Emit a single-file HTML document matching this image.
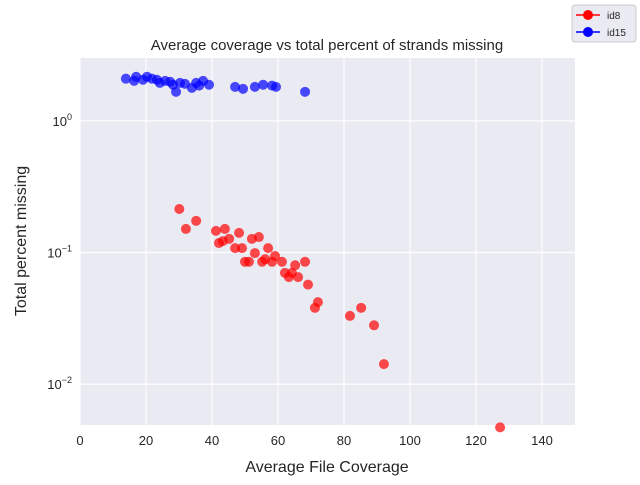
<!DOCTYPE html>
<html><head><meta charset="utf-8"><style>
body{margin:0;background:#fff;font-family:"Liberation Sans",sans-serif;}
svg text{font-family:"Liberation Sans","DejaVu Sans",sans-serif;}
</style></head><body>
<svg id="chart" width="640" height="480" xmlns="http://www.w3.org/2000/svg">
<rect x="80" y="58" width="495" height="367" fill="#eaeaf2"/>
<g id="grid"></g>
<g id="ticks"></g>
<g id="pts"></g>
<text x="327" y="50" text-anchor="middle" font-size="15" fill="#262626">Average coverage vs total percent of strands missing</text>
<text x="327" y="472" text-anchor="middle" font-size="16" fill="#262626">Average File Coverage</text>
<text transform="translate(26,241) rotate(-90)" text-anchor="middle" font-size="16" fill="#262626">Total percent missing</text>
<g>
<rect x="572" y="5" width="64" height="37" rx="3" fill="#eaeaf2" stroke="#ccc"/>
<g>
<line x1="576" y1="15" x2="600" y2="15" stroke="#f00" stroke-width="1.5"/><circle cx="588" cy="15" r="5" fill="#f00"/>
<text x="607" y="19" font-size="10" fill="#262626">id8</text></g>
<g>
<line x1="576" y1="32" x2="600" y2="32" stroke="#00f" stroke-width="1.5"/><circle cx="588" cy="32" r="5" fill="#00f"/>
<text x="607" y="36" font-size="10" fill="#262626">id15</text></g>
</g>
</svg>
<script>
const xTicks=[0,20,40,60,80,100,120,140];
const yDecades=[-2,-1,0];
const id8X=[30.1,35.2,32.1,41.2,43.9,48.2,42.1,43.3,45.2,52.1,54.2,47.0,49.1,53.0,57.0,50.0,51.2,55.2,56.1,58.2,59.1,61.2,68.2,65.2,62.1,63.3,64.2,66.1,69.1,72.1,71.2,81.8,85.2,89.1,92.1,127.3];
const id8Y=[0.214,0.174,0.151,0.146,0.151,0.141,0.118,0.122,0.127,0.127,0.131,0.108,0.108,0.099,0.108,0.085,0.085,0.085,0.089,0.085,0.094,0.085,0.085,0.080,0.070,0.065,0.070,0.065,0.057,0.042,0.038,0.033,0.038,0.028,0.0142,0.0047];
const id15X=[13.9,16.4,17.0,19.1,20.3,21.8,23.3,24.2,25.8,27.3,28.2,29.1,30.3,31.8,33.9,35.2,36.1,37.3,39.1,47.0,49.4,53.0,55.5,58.2,59.4,68.2];
const id15Y=[2.09,2.01,2.16,2.05,2.16,2.09,2.05,1.94,2.01,1.98,1.88,1.66,1.94,1.91,1.78,1.94,1.85,2.01,1.88,1.81,1.75,1.81,1.88,1.85,1.81,1.66];
const NS="http://www.w3.org/2000/svg";
const X0=80,X1=575,XMIN=0,XMAX=150,Y0=58,Y1=425;
const LMAX=Math.log10(3.0),LMIN=-2.31;
function sx(v){return X0+(v-XMIN)/(XMAX-XMIN)*(X1-X0);}
function sy(v){return Y0+(LMAX-Math.log10(v))/(LMAX-LMIN)*(Y1-Y0);}
function mk(t,a,p){const e=document.createElementNS(NS,t);for(const k in a)e.setAttribute(k,a[k]);p.appendChild(e);return e;}
const grid=document.getElementById('grid'),ticks=document.getElementById('ticks'),pts=document.getElementById('pts');
xTicks.forEach(t=>{const x=sx(t);
const l=mk('line',{x1:x,x2:x,y1:Y0,y2:Y1,stroke:'#fff','stroke-width':1.2},grid);


const tx=mk('text',{x:x,y:Y1+20,'text-anchor':'middle','font-size':13,fill:'#262626'},ticks);tx.textContent=t;

});
yDecades.forEach(d=>{const y=sy(Math.pow(10,d));
const l=mk('line',{x1:X0,x2:X1,y1:y,y2:y,stroke:'#fff','stroke-width':1.2},grid);


const tx=mk('text',{x:X0-8,y:y+5,'text-anchor':'end','font-size':13,fill:'#262626'},ticks);


const b=mk('tspan',{},tx);b.textContent='10';
const s=mk('tspan',{dy:-6,'font-size':9},tx);s.textContent=String(d).replace('-','\u2212');});
function series(xs,ys,c,n){xs.forEach((v,i)=>{const p=mk('circle',{cx:sx(v),cy:sy(ys[i]),r:5,fill:c,'fill-opacity':0.7},pts);

});}
series(id8X,id8Y,'#f00','id8-point');
series(id15X,id15Y,'#00f','id15-point');
</script>
</body></html>
